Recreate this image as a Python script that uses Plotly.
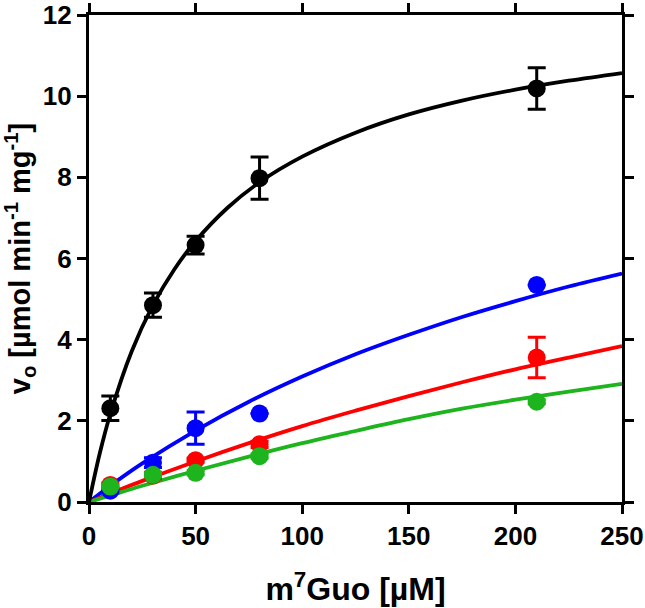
import plotly.graph_objects as go

# substrate concentrations (µM)
conc = [10, 30, 50, 80, 210]

# measured initial velocities (µmol min^-1 mg^-1) and error bars
black_v = [2.31, 4.85, 6.33, 7.98, 10.19]
black_err = [0.30, 0.30, 0.22, 0.52, 0.51]
blue_v = [0.28, 0.97, 1.82, 2.18, 5.35]
blue_err = [0.05, 0.12, 0.40, 0.0, 0.0]
red_v = [0.42, 0.65, 1.03, 1.42, 3.56]
red_err = [0.05, 0.08, 0.05, 0.08, 0.50]
green_v = [0.38, 0.67, 0.72, 1.13, 2.47]
green_err = [0.03, 0.05, 0.05, 0.05, 0.05]

# fitted curves
black_fit_x = [0, 5, 10, 20, 30, 40, 50, 65, 80, 100, 125, 150, 175, 200, 225, 250]
black_fit_y = [0, 1.19, 2.17, 3.71, 4.85, 5.73, 6.43, 7.25, 7.88, 8.51, 9.10, 9.55, 9.89, 10.16, 10.38, 10.57]
fit_x = [0, 10, 25, 50, 75, 100, 125, 150, 175, 200, 225, 250]
blue_fit_y = [0, 0.40, 0.95, 1.76, 2.47, 3.09, 3.64, 4.12, 4.56, 4.95, 5.31, 5.63]
red_fit_y = [0, 0.21, 0.52, 1.00, 1.45, 1.87, 2.25, 2.61, 2.95, 3.27, 3.56, 3.84]
green_fit_y = [0, 0.16, 0.40, 0.77, 1.12, 1.45, 1.75, 2.04, 2.30, 2.52, 2.72, 2.91]

x_ticks = [0, 50, 100, 150, 200, 250]
y_ticks = [0, 2, 4, 6, 8, 10, 12]

FONT = "Liberation Sans"
fig = go.Figure()

series = [
    ("#0000ff", blue_fit_y, blue_v, blue_err, fit_x),
    ("#ff0000", red_fit_y, red_v, red_err, fit_x),
    ("#1db41d", green_fit_y, green_v, green_err, fit_x),
    ("#000000", black_fit_y, black_v, black_err, black_fit_x),
]

for color, fy, v, err, fx in series:
    fig.add_trace(go.Scatter(x=fx, y=fy, mode="lines", line=dict(color=color, width=3.8, shape="spline"),
                             showlegend=False, hoverinfo="skip"))

for color, fy, v, err, fx in series:
    fig.add_trace(go.Scatter(
        x=conc, y=v, mode="markers",
        marker=dict(color=color, size=18, line=dict(width=0)),
        error_y=dict(type="data", array=err, visible=True, color=color, thickness=3, width=9),
        showlegend=False, cliponaxis=False,
    ))

fig.update_layout(
    width=645, height=608,
    margin=dict(l=89, r=23, t=15, b=106),
    plot_bgcolor="white", paper_bgcolor="white",
    font=dict(family=FONT, color="black"),
)
fig.update_xaxes(
    range=[0, 250], tickvals=x_ticks, ticktext=[str(t) for t in x_ticks],
    showgrid=False, zeroline=False, automargin=False, ticklabeloverflow="allow",
    showline=True, linecolor="black", linewidth=3.3, mirror="ticks",
    ticks="outside", ticklen=9, tickwidth=3.3, tickcolor="black",
    tickfont=dict(family=FONT, size=26, weight="bold"),
    title=dict(text="m<sup>7</sup>Guo [µM]", font=dict(family=FONT, size=32, weight="bold"), standoff=28),
)
fig.update_yaxes(
    range=[0, 12], tickvals=y_ticks, ticktext=[str(t) for t in y_ticks],
    showgrid=False, zeroline=False, automargin=False, ticklabeloverflow="allow",
    showline=True, linecolor="black", linewidth=3.3, mirror="ticks",
    ticks="outside", ticklen=9, tickwidth=3.3, tickcolor="black",
    tickfont=dict(family=FONT, size=26, weight="bold"),
    title=dict(text="v<sub>o</sub> [µmol min<sup>-1</sup> mg<sup>-1</sup>]",
               font=dict(family=FONT, size=29, weight="bold"), standoff=10),
)

fig.write_html("out.html", post_script="document.body.style.margin='0';",
               config={"displayModeBar": False})
